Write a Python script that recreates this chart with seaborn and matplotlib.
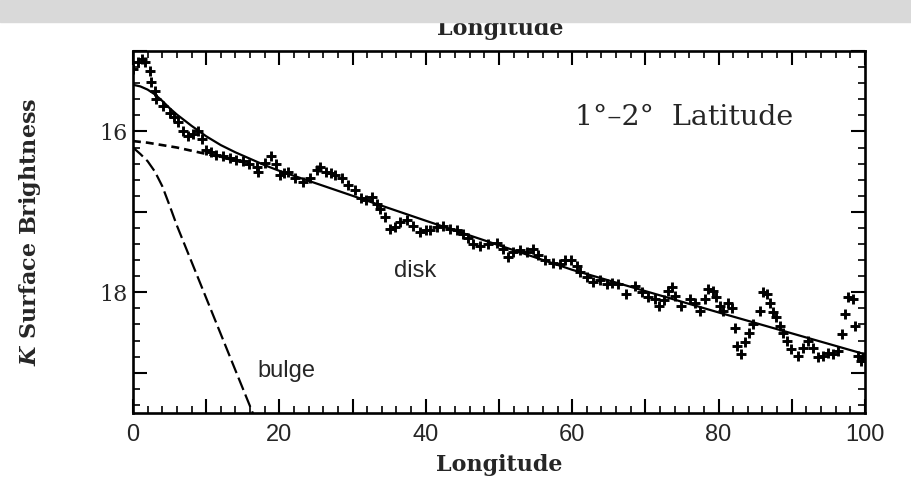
import numpy as np
import matplotlib
matplotlib.use("Agg")
import matplotlib.pyplot as plt
from matplotlib.patches import Rectangle
from matplotlib.ticker import MultipleLocator, FuncFormatter
import seaborn as sns

# K-band surface brightness profile, 1-2 deg latitude
lon = [0.05, 0.7, 1.2, 1.6, 2.3, 2.5, 3.0, 3.2, 4.1, 5.05, 5.6, 6.2, 6.8, 7.5, 8.2,
       8.9, 9.4, 10.0, 10.7, 11.4, 12.3, 13.2, 14.1, 15.0, 15.9, 16.9,
       17.1, 18.0, 18.9, 19.6, 20.1, 20.7, 21.2, 22.1, 23.2, 24.2, 25.1, 25.5, 26.4,
       27.0, 27.6, 28.5, 29.4, 30.3, 31.2, 31.9, 32.6, 33.3, 33.7, 34.4, 35.1, 35.8,
       36.5, 37.4, 38.3, 39.2, 40.1, 40.6, 41.5, 42.4, 43.3, 44.2, 45.1, 45.8, 46.5,
       47.4, 48.5, 49.7, 50.6, 51.3, 51.9, 52.9, 53.8, 54.7, 55.4, 56.3, 57.4, 58.3,
       59.0, 59.9, 60.6, 61.1, 62.0, 62.9, 63.8, 64.7, 65.4, 66.3, 67.4, 68.6, 69.5,
       70.4, 71.3, 71.8, 72.5, 73.1, 73.6, 74.0, 74.9, 76.1, 76.8, 77.5, 78.1, 78.6,
       79.2, 79.7, 80.2, 80.6, 81.3, 81.8, 82.2, 82.5, 83.1, 83.6, 84.1, 84.7, 85.6,
       86.1, 86.6, 87.0, 87.4, 87.9, 88.4, 88.8, 89.3, 89.9, 90.9, 91.6, 92.2, 92.9,
       93.6, 94.3, 94.9, 95.6, 96.3, 96.8, 97.3, 97.7, 98.4, 98.6, 99.1, 99.5, 99.7]
sb = [15.23, 15.14, 15.10, 15.14, 15.25, 15.38, 15.50, 15.60, 15.69, 15.77, 15.82, 15.88, 16.00, 16.06, 16.03,
      16.00, 16.10, 16.23, 16.26, 16.29, 16.31, 16.33, 16.35, 16.37, 16.41, 16.44,
      16.50, 16.39, 16.31, 16.40, 16.54, 16.52, 16.50, 16.58, 16.63, 16.58, 16.48, 16.44, 16.50,
      16.52, 16.54, 16.58, 16.67, 16.73, 16.83, 16.85, 16.82, 16.90, 16.96, 17.06, 17.21, 17.19,
      17.12, 17.10, 17.17, 17.25, 17.23, 17.23, 17.19, 17.17, 17.21, 17.23, 17.27, 17.33, 17.40,
      17.42, 17.40, 17.39, 17.46, 17.56, 17.50, 17.48, 17.50, 17.46, 17.54, 17.60, 17.63, 17.65,
      17.60, 17.60, 17.67, 17.75, 17.81, 17.87, 17.85, 17.90, 17.88, 17.90, 18.02, 17.92, 18.00,
      18.06, 18.08, 18.17, 18.10, 17.98, 17.94, 18.04, 18.17, 18.08, 18.13, 18.23, 18.08, 17.96,
      17.98, 18.06, 18.17, 18.23, 18.13, 18.19, 18.44, 18.67, 18.77, 18.62, 18.50, 18.40, 18.23,
      18.00, 18.02, 18.13, 18.25, 18.31, 18.42, 18.50, 18.60, 18.71, 18.79, 18.69, 18.60, 18.69,
      18.81, 18.79, 18.75, 18.77, 18.73, 18.52, 18.27, 18.06, 18.08, 18.42, 18.79, 18.85, 18.81]

# total model (solid)
model_x = [0, 1, 2, 3, 4, 5, 6, 8, 10, 12, 14, 16, 18, 20, 40, 60, 80, 100]
model_y = [15.42, 15.44, 15.48, 15.54, 15.62, 15.71, 15.79, 15.93, 16.06, 16.17, 16.26, 16.34,
           16.42, 16.49, 17.11, 17.72, 18.25, 18.77]

# disk component (short dashes)
disk_x = [0, 2, 4, 6, 8, 10, 12, 14, 16]
disk_y = [16.12, 16.14, 16.17, 16.20, 16.24, 16.28, 16.32, 16.36, 16.40]

# bulge component (long dashes)
bulge_x = [0, 1, 2, 3, 4, 5, 6, 8, 10, 12, 14, 16.5]
bulge_y = [16.20, 16.28, 16.37, 16.50, 16.68, 16.92, 17.17, 17.62, 18.07, 18.52, 18.97, 19.53]

sns.set_style("ticks")
plt.rcParams["font.family"] = ["DejaVu Serif"]
plt.rcParams["mathtext.fontset"] = "custom"
plt.rcParams["mathtext.it"] = "DejaVu Serif:italic:bold"

fig = plt.figure(figsize=(9.12, 4.87), dpi=100)
ax = fig.add_axes([0.1458, 0.152, 0.8026, 0.7433])

sns.scatterplot(x=lon, y=sb, marker="+", s=55, color="black", linewidth=2.1, ax=ax, zorder=3)
sns.lineplot(x=model_x, y=model_y, color="black", lw=1.6, ax=ax, zorder=4)
sns.lineplot(x=disk_x, y=disk_y, color="black", lw=1.9, linestyle=(0, (3, 1.9)), ax=ax)
sns.lineplot(x=bulge_x, y=bulge_y, color="black", lw=1.6, linestyle=(0, (6, 2.2)), ax=ax)

ax.set_xlim(0, 100)
ax.set_ylim(19.5, 15)

ax.xaxis.set_major_locator(MultipleLocator(10))
ax.xaxis.set_minor_locator(MultipleLocator(2))
ax.yaxis.set_major_locator(MultipleLocator(1))
ax.yaxis.set_minor_locator(MultipleLocator(0.2))
ax.xaxis.set_major_formatter(FuncFormatter(lambda v, p: f"{v:.0f}" if round(v) % 20 == 0 else ""))
ax.yaxis.set_major_formatter(FuncFormatter(lambda v, p: f"{v:.0f}" if round(v) % 2 == 0 else ""))
ax.tick_params(which="both", direction="in", top=True, right=True, color="black")
ax.tick_params(which="major", length=10, width=1.5)
ax.tick_params(which="minor", length=5, width=1.2)
ax.tick_params(axis="x", pad=8)
ax.tick_params(axis="y", pad=4)
for lab in ax.get_xticklabels():
    lab.set_fontfamily("Liberation Sans")
    lab.set_fontsize(17)
for lab in ax.get_yticklabels():
    lab.set_fontsize(16)
for sp in ax.spines.values():
    sp.set_linewidth(1.9)
    sp.set_color("black")

ax.set_xlabel("Longitude", fontsize=16, fontweight="bold")
ax.xaxis.set_label_coords(0.5, -0.112)
ax.set_ylabel("$K$ Surface Brightness", fontsize=16, fontweight="bold")
ax.yaxis.set_label_coords(-0.123, 0.5)

ax.text(60.4, 15.83, "1°–2°  Latitude", fontsize=20.5, va="center", ha="left")
ax.text(38.5, 17.73, "disk", fontsize=17, family="Liberation Sans", ha="center", va="center")
ax.text(21.0, 18.98, "bulge", fontsize=17, family="Liberation Sans", ha="center", va="center")

# cropped title from the page above, partly hidden by the grey band
fig.text(0.548, 1 - 35 / 487, "Longitude", fontsize=16, fontweight="bold",
         ha="center", va="baseline")
fig.patches.append(Rectangle((0, 1 - 22 / 487), 1, 22 / 487, transform=fig.transFigure,
                             color="#d9d9d9", zorder=10))

fig.savefig("out.png", dpi=100)
